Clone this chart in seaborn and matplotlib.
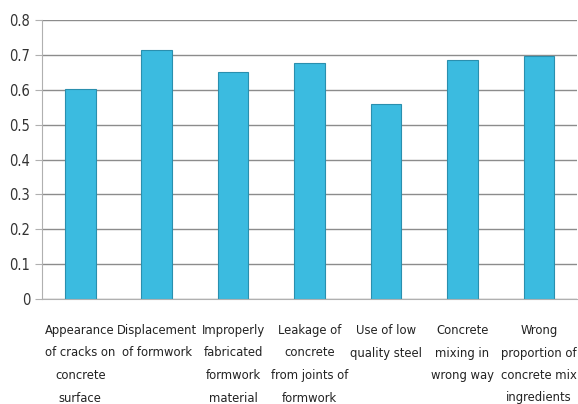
import pandas as pd
import seaborn as sns
import matplotlib.pyplot as plt

causes = ["Appearance\nof cracks on\nconcrete\nsurface",
          "Displacement\nof formwork",
          "Improperly\nfabricated\nformwork\nmaterial",
          "Leakage of\nconcrete\nfrom joints of\nformwork",
          "Use of low\nquality steel",
          "Concrete\nmixing in\nwrong way",
          "Wrong\nproportion of\nconcrete mix\ningredients"]
scores = [0.602, 0.713, 0.650, 0.678, 0.560, 0.685, 0.698]

data = pd.DataFrame({"cause": causes, "score": scores})

sns.set_style("white")
plt.rcParams['font.family'] = ['DejaVu Sans']
plt.rcParams['font.stretch'] = 'condensed'

fig = plt.figure(figsize=(5.78, 4.04), dpi=100)
ax = fig.add_axes([42/578, 105/404, 535/578, 279/404])

sns.barplot(x="cause", y="score", data=data, color="#3bbbe0", width=0.4,
            edgecolor="#2a8fae", linewidth=0.8, saturation=1, ax=ax)

ax.set_ylim(0, 0.8)
ax.set_yticks([0, 0.1, 0.2, 0.3, 0.4, 0.5, 0.6, 0.7, 0.8])
ax.set_yticklabels(["0", "0.1", "0.2", "0.3", "0.4", "0.5", "0.6", "0.7", "0.8"])
ax.set_xlim(-0.5, len(causes) - 0.5)
ax.yaxis.grid(True, color="#8c8c8c", linewidth=1)
ax.set_axisbelow(True)
ax.set_xlabel("")
ax.set_ylabel("")

for s in ["top", "right"]:
    ax.spines[s].set_visible(False)
ax.spines["left"].set_color("#b0b0b0")
ax.spines["bottom"].set_color("#b0b0b0")

# excel style ticks between categories
ax.set_xticks([i + 0.5 for i in range(-1, len(causes))], minor=True)
ax.tick_params(axis="x", which="minor", length=5, color="#b0b0b0", direction="out")
ax.tick_params(axis="x", which="major", length=0, labelsize=9.3, pad=18)
ax.tick_params(axis="y", length=5, color="#b0b0b0", labelsize=10.5, left=True, colors="#333333")
for lbl in ax.get_xticklabels():
    lbl.set_linespacing(1.95)
    lbl.set_color("#222222")

fig.savefig("out.png", dpi=100)
